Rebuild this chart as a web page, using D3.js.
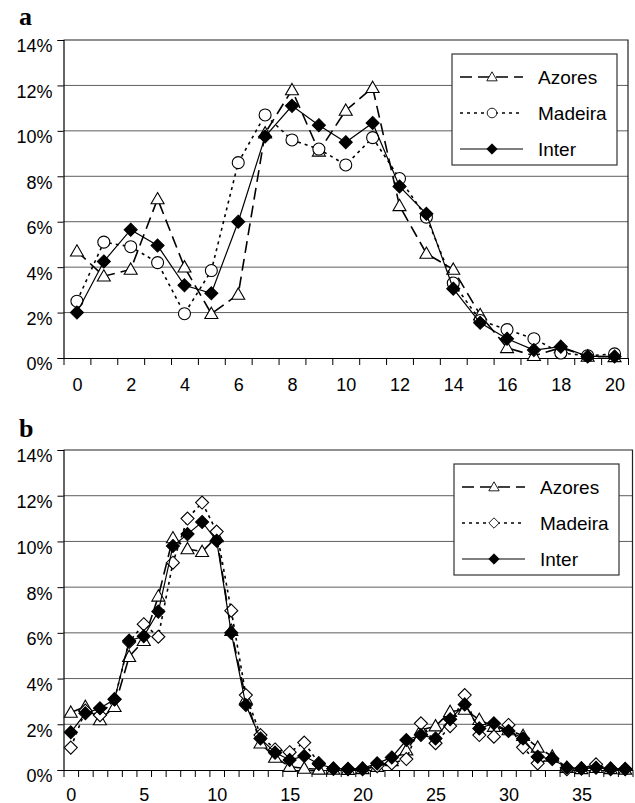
<!DOCTYPE html>
<html>
<head>
<meta charset="utf-8">
<script src="https://cdn.jsdelivr.net/npm/d3@7"></script>
<style>
  body { margin: 0; background: #fff; }
  text { font-family: "Liberation Sans", Arial, sans-serif; fill: #000; }
  .panel-label { font-family: "Liberation Serif", "Times New Roman", serif; font-weight: bold; font-size: 26px; }
</style>
</head>
<body>
<div id="chart"></div>
<script>
// Panel a: categories 0..20
const categoriesA = [0, 1, 2, 3, 4, 5, 6, 7, 8, 9, 10, 11, 12, 13, 14, 15, 16, 17, 18, 19, 20];
const azoresA = [4.7, 3.6, 3.9, 7.0, 4.0, 1.95, 2.8, 9.9, 11.8, 9.1, 10.9, 11.9, 6.7, 4.6, 3.9, 1.9, 0.45, 0.1, 0.45, 0.07, 0.05];
const madeiraA = [2.5, 5.1, 4.9, 4.2, 1.95, 3.85, 8.6, 10.7, 9.6, 9.2, 8.5, 9.7, 7.9, 6.2, 3.3, 1.65, 1.25, 0.85, 0.22, 0.1, 0.18];
const interA = [2.0, 4.25, 5.65, 4.95, 3.2, 2.85, 6.0, 9.75, 11.1, 10.25, 9.5, 10.35, 7.55, 6.35, 3.05, 1.55, 0.85, 0.35, 0.5, 0.07, 0.07];
const xLabelsA = [0, 2, 4, 6, 8, 10, 12, 14, 16, 18, 20];

// Panel b: categories 0..38
const categoriesB = [0, 1, 2, 3, 4, 5, 6, 7, 8, 9, 10, 11, 12, 13, 14, 15, 16, 17, 18, 19,
  20, 21, 22, 23, 24, 25, 26, 27, 28, 29, 30, 31, 32, 33, 34, 35, 36, 37, 38];
const azoresB = [2.52, 2.77, 2.19, 2.77, 4.96, 5.66, 7.6, 10.15, 9.67, 9.55, 10.2, 6.1, 3.1, 1.17, 0.55, 0.15, 0.07, 0.03, 0.03, 0.02,
  0.05, 0.15, 0.4, 0.87, 1.75, 1.92, 2.55, 2.65, 2.2, 1.9, 1.75, 1.5, 0.99, 0.6, 0.1, 0.05, 0.1, 0.05, 0.03];
const madeiraB = [0.98, 2.6, 2.4, 3.1, 5.6, 6.38, 5.83, 9.07, 11.0, 11.7, 10.43, 6.97, 3.28, 1.53, 0.9, 0.78, 1.2, 0.3, 0.05, 0.05,
  0.03, 0.17, 0.29, 0.48, 2.04, 1.17, 1.92, 3.28, 1.53, 1.46, 1.97, 0.99, 0.29, 0.5, 0.03, 0.07, 0.25, 0.03, 0.03];
const interB = [1.65, 2.48, 2.7, 3.09, 5.66, 5.85, 6.93, 9.8, 10.32, 10.85, 10.03, 6.0, 2.84, 1.38, 0.76, 0.44, 0.61, 0.26, 0.07, 0.03,
  0.07, 0.29, 0.55, 1.31, 1.53, 1.38, 2.22, 2.87, 1.82, 2.04, 1.71, 1.38, 0.58, 0.48, 0.1, 0.07, 0.1, 0.07, 0.05];
const xLabelsB = [0, 5, 10, 15, 20, 25, 30, 35];

const yTicks = [0, 2, 4, 6, 8, 10, 12, 14];
const seriesNames = ["Azores", "Madeira", "Inter"];

const width = 635, height = 803;
const svg = d3.select('#chart').append('svg')
  .attr('width', width)
  .attr('height', height);

// marker shapes
const markerPath = {
  triangle: 'M0,-6.5L6.5,4.8L-6.5,4.8Z',
  diamond: 'M0,-6.5L6.5,0L0,6.5L-6.5,0Z'
};

function drawMarker(g, shape, fill) {
  if (shape === 'circle') {
    return g.append('circle').attr('r', 6).attr('fill', fill).attr('stroke', '#000').attr('stroke-width', 1.1);
  }
  return g.append('path').attr('d', markerPath[shape]).attr('fill', fill).attr('stroke', '#000').attr('stroke-width', 1.1);
}

const lineStyles = [
  { dash: '12,6', width: 1.6, shape: 'triangle', fill: '#fff' },
  { dash: '3,4', width: 1.6, shape: 'circle', fill: '#fff' },
  { dash: null, width: 1.2, shape: 'diamond', fill: '#000' }
];

function drawPanel(opts) {
  const { label, categories, series, xLabels, left, right, top, bottom, madeiraShape, legendBox, labelY, xLabelY } = opts;
  const g = svg.append('g');

  const x = d3.scaleLinear()
    .domain([-0.5, categories.length - 0.5])
    .range([left, right]);
  const y = d3.scaleLinear().domain([0, 14]).range([bottom, top]);

  // gridlines
  g.selectAll('.grid')
    .data(yTicks.filter(d => d > 0 && d < 14))
    .join('line')
      .attr('x1', left).attr('x2', right)
      .attr('y1', d => y(d)).attr('y2', d => y(d))
      .attr('stroke', '#5e5e5e')
      .attr('stroke-width', 1);

  // frame: top and right
  g.append('path')
    .attr('d', `M${left},${top}H${right}V${bottom}`)
    .attr('fill', 'none')
    .attr('stroke', '#222')
    .attr('stroke-width', 1.2);

  // y axis
  const yAxis = g.append('g')
    .attr('transform', `translate(${left},0)`)
    .call(d3.axisLeft(y).tickValues(yTicks).tickFormat(d => d + '%').tickSize(6).tickPadding(5));
  yAxis.select('.domain').attr('stroke', '#000').attr('stroke-width', 1.2);
  yAxis.selectAll('.tick line').attr('stroke', '#000');
  yAxis.selectAll('.tick text')
    .attr('dy', '0.66em')
    .style('font-size', '18px')
    .style('font-family', '"Liberation Sans", Arial, sans-serif');

  // x axis: ticks between categories
  const boundaries = d3.range(categories.length + 1).map(i => i - 0.5);
  const xAxis = g.append('g')
    .attr('transform', `translate(0,${bottom})`)
    .call(d3.axisBottom(x).tickValues(boundaries).tickFormat('').tickSize(7).tickSizeOuter(0));
  xAxis.select('.domain').attr('stroke', '#000').attr('stroke-width', 1.2);
  xAxis.selectAll('.tick line').attr('stroke', '#000');

  const xLab = g.append('g')
    .attr('transform', `translate(0,${bottom})`)
    .call(d3.axisBottom(x).tickValues(xLabels).tickSize(0).tickPadding(0));
  xLab.select('.domain').remove();
  xLab.selectAll('.tick text')
    .attr('y', xLabelY)
    .attr('dy', 0)
    .style('font-size', '18px')
    .style('font-family', '"Liberation Sans", Arial, sans-serif');

  // series lines and markers
  const line = d3.line()
    .x((d, i) => x(categories[i]))
    .y(d => y(d));

  series.forEach((values, si) => {
    const st = lineStyles[si];
    const shape = si === 1 ? madeiraShape : st.shape;
    g.append('path')
      .datum(values)
      .attr('d', line)
      .attr('fill', 'none')
      .attr('stroke', '#000')
      .attr('stroke-width', st.width)
      .attr('stroke-dasharray', st.dash);
    values.forEach((v, i) => {
      const m = g.append('g').attr('transform', `translate(${x(categories[i])},${y(v)})`);
      drawMarker(m, shape, st.fill);
    });
  });

  // legend
  const lg = g.append('g').attr('transform', `translate(${legendBox.x},${legendBox.y})`);
  lg.append('rect')
    .attr('width', legendBox.w).attr('height', legendBox.h)
    .attr('fill', '#fff').attr('stroke', '#333').attr('stroke-width', 1.2);
  seriesNames.forEach((name, si) => {
    const st = lineStyles[si];
    const shape = si === 1 ? madeiraShape : st.shape;
    const ry = 23 + si * 36;
    lg.append('line')
      .attr('x1', 8).attr('x2', 71)
      .attr('y1', ry).attr('y2', ry)
      .attr('stroke', '#000')
      .attr('stroke-width', st.width)
      .attr('stroke-dasharray', st.dash);
    const m = lg.append('g').attr('transform', `translate(40,${ry}) scale(0.8)`);
    drawMarker(m, shape, st.fill);
    lg.append('text')
      .attr('x', 86).attr('y', ry)
      .attr('dy', '0.36em')
      .style('font-size', '19px')
      .text(name);
  });

  // panel label
  svg.append('text')
    .attr('class', 'panel-label')
    .attr('x', 19).attr('y', labelY)
    .text(label);
}

drawPanel({
  label: 'a', categories: categoriesA, series: [azoresA, madeiraA, interA], xLabels: xLabelsA,
  left: 63.5, right: 628, top: 40, bottom: 358, madeiraShape: 'circle',
  legendBox: { x: 452, y: 54, w: 165, h: 111 }, labelY: 25, xLabelY: 33
});

drawPanel({
  label: 'b', categories: categoriesB, series: [azoresB, madeiraB, interB], xLabels: xLabelsB,
  left: 63.5, right: 632.5, top: 450, bottom: 770, madeiraShape: 'diamond',
  legendBox: { x: 454, y: 464, w: 165, h: 111 }, labelY: 437, xLabelY: 30.5
});
</script>
</body>
</html>
